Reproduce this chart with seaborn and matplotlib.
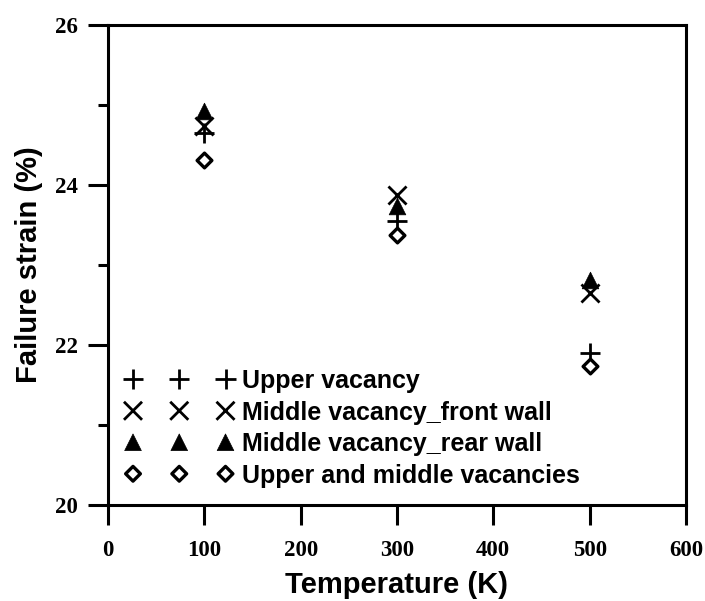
import matplotlib
matplotlib.use("Agg")
import matplotlib.pyplot as plt
import seaborn as sns
import pandas as pd
from matplotlib.ticker import MultipleLocator

# Failure strain vs. temperature for the four vacancy configurations
temperatures = [100, 300, 500]
upper_vacancy = [24.65, 23.55, 21.90]
middle_front_wall = [24.74, 23.87, 22.65]
middle_rear_wall = [24.93, 23.74, 22.81]
upper_and_middle = [24.31, 23.38, 21.74]

series_names = [
    "Upper vacancy",
    "Middle vacancy_front wall",
    "Middle vacancy_rear wall",
    "Upper and middle vacancies",
]
series_values = [upper_vacancy, middle_front_wall, middle_rear_wall, upper_and_middle]

x_ticks = [0, 100, 200, 300, 400, 500, 600]
y_ticks = [20, 22, 24, 26]

sns.set_theme(style="white")
plt.rcParams["font.family"] = ["Liberation Sans", "DejaVu Sans"]
plt.rcParams["text.color"] = "black"
plt.rcParams["axes.labelcolor"] = "black"

fig = plt.figure(figsize=(7.05, 6.01), dpi=100)
ax = fig.add_axes([0.1532, 0.1597, 0.8198, 0.7987])

styles = [
    dict(marker="+", s=14.5 ** 2, color="black", linewidths=2.0),
    dict(marker="x", s=13.0 ** 2, color="black", linewidths=2.0),
    dict(marker="^", s=12.0 ** 2, color="black", edgecolor="black", linewidths=0.5),
    dict(marker="D", s=7.5 ** 2, facecolor="white", edgecolor="black", linewidths=2.4),
]

for name, vals, st in zip(series_names, series_values, styles):
    df = pd.DataFrame({"Temperature": temperatures, "Strain": vals})
    sns.scatterplot(data=df, x="Temperature", y="Strain", ax=ax,
                    legend=False, label=name, zorder=3, **st)

ax.set_xlim(0, 600)
ax.set_ylim(20, 26)
ax.set_xticks(x_ticks)
ax.set_yticks(y_ticks)
ax.yaxis.set_minor_locator(MultipleLocator(1))

for side in ["left", "bottom", "right", "top"]:
    ax.spines[side].set_visible(True)
    ax.spines[side].set_color("black")
    ax.spines[side].set_linewidth(2.2)

ax.tick_params(axis="both", which="major", direction="out", length=14.5,
               width=2.2, color="black", left=True, bottom=True)
ax.tick_params(axis="x", which="major", pad=11)
ax.tick_params(axis="y", which="major", pad=7)
ax.tick_params(axis="y", which="minor", direction="out", length=7.2,
               width=2.2, color="black", left=True)

for lbl in ax.get_xticklabels() + ax.get_yticklabels():
    lbl.set_fontfamily("Liberation Serif")
    lbl.set_fontweight("bold")
    lbl.set_fontsize(16.5)
    lbl.set_color("black")

ax.set_xlabel("Temperature (K)", fontsize=21, fontweight="bold", color="black", labelpad=7)
ax.set_ylabel("Failure strain (%)", fontsize=21, fontweight="bold", color="black", labelpad=9)

leg = ax.legend(loc="lower left", bbox_to_anchor=(0.0, 0.0), frameon=False,
                scatterpoints=3, scatteryoffsets=[0.5], handlelength=4.3,
                handletextpad=0.35, labelspacing=0.3, borderaxespad=0.3,
                prop={"family": "Liberation Sans", "weight": "bold", "size": 18})
for t in leg.get_texts():
    t.set_color("black")

fig.savefig("out.png", dpi=100)
